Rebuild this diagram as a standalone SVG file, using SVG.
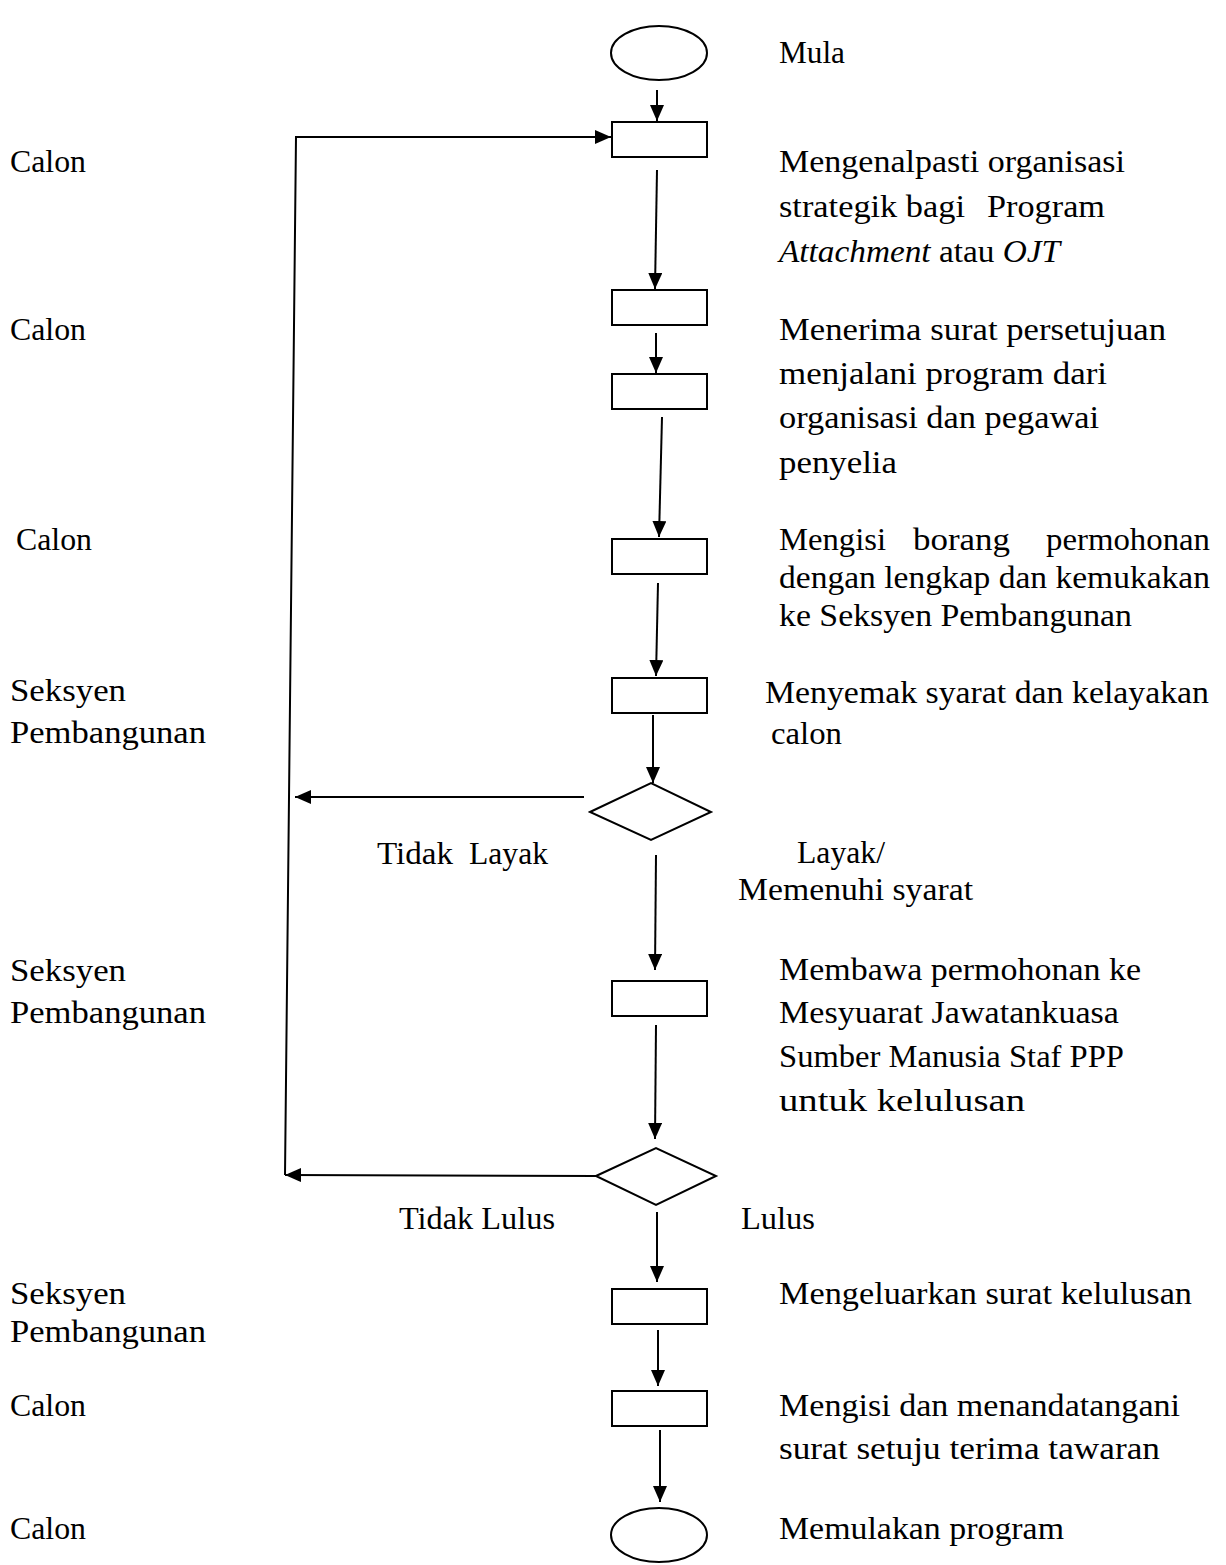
<svg xmlns="http://www.w3.org/2000/svg" width="1226" height="1565" viewBox="0 0 1226 1565">
<style>
.s{fill:#fff;stroke:#000;stroke-width:2}
.c{fill:none;stroke:#000;stroke-width:2}
.t{font-family:"Liberation Serif","Times New Roman",serif;font-size:32px;fill:#000}
.i{font-style:italic}
</style>
<defs>
<marker id="ah" markerWidth="16" markerHeight="14" refX="16" refY="7" orient="auto" markerUnits="userSpaceOnUse">
<path d="M0,0 L16,7 L0,14 z" fill="#000"/>
</marker>
</defs>
<rect width="1226" height="1565" fill="#fff"/>

<g id="connectors">
<line class="c" x1="657" y1="90" x2="657" y2="121" marker-end="url(#ah)"/>
<line class="c" x1="657" y1="170" x2="655" y2="289" marker-end="url(#ah)"/>
<line class="c" x1="656" y1="333" x2="656" y2="373" marker-end="url(#ah)"/>
<line class="c" x1="662" y1="417" x2="659" y2="537" marker-end="url(#ah)"/>
<line class="c" x1="658" y1="583" x2="656" y2="676" marker-end="url(#ah)"/>
<line class="c" x1="653" y1="715" x2="653" y2="783" marker-end="url(#ah)"/>
<line class="c" x1="584" y1="797" x2="295" y2="797" marker-end="url(#ah)"/>
<line class="c" x1="656" y1="855" x2="655" y2="970" marker-end="url(#ah)"/>
<line class="c" x1="656" y1="1025" x2="655" y2="1139" marker-end="url(#ah)"/>
<line class="c" x1="596" y1="1176" x2="285" y2="1175" marker-end="url(#ah)"/>
<polyline class="c" points="285,1175 296,137 611,137" marker-end="url(#ah)"/>
<line class="c" x1="657" y1="1212" x2="657" y2="1282" marker-end="url(#ah)"/>
<line class="c" x1="658" y1="1330" x2="658" y2="1386" marker-end="url(#ah)"/>
<line class="c" x1="660" y1="1430" x2="660" y2="1502" marker-end="url(#ah)"/>
</g>

<g id="n-mula">
<ellipse class="s" cx="659" cy="53" rx="48" ry="27"/>
<text class="t" x="779" y="63" textLength="66" lengthAdjust="spacingAndGlyphs">Mula</text>
</g>

<g id="n-kenalpasti">
<rect class="s" x="612" y="122" width="95" height="35"/>
<text class="t" x="10" y="172" textLength="76" lengthAdjust="spacingAndGlyphs">Calon</text>
<text class="t" x="779" y="172" textLength="346" lengthAdjust="spacingAndGlyphs">Mengenalpasti organisasi</text>
<text class="t" x="779" y="217" textLength="186" lengthAdjust="spacingAndGlyphs">strategik bagi</text>
<text class="t" x="987" y="217" textLength="118" lengthAdjust="spacingAndGlyphs">Program</text>
<text class="t" x="779" y="262" textLength="281" lengthAdjust="spacingAndGlyphs"><tspan class="i">Attachment</tspan> atau <tspan class="i">OJT</tspan></text>
</g>

<g id="n-terima">
<rect class="s" x="612" y="290" width="95" height="35"/>
<text class="t" x="10" y="340" textLength="76" lengthAdjust="spacingAndGlyphs">Calon</text>
<text class="t" x="779" y="340" textLength="387" lengthAdjust="spacingAndGlyphs">Menerima surat persetujuan</text>
<text class="t" x="779" y="384" textLength="328" lengthAdjust="spacingAndGlyphs">menjalani program dari</text>
<text class="t" x="779" y="428" textLength="320" lengthAdjust="spacingAndGlyphs">organisasi dan pegawai</text>
<text class="t" x="779" y="473" textLength="118" lengthAdjust="spacingAndGlyphs">penyelia</text>
</g>

<g id="n-terima2">
<rect class="s" x="612" y="374" width="95" height="35"/>
</g>

<g id="n-isi-borang">
<rect class="s" x="612" y="539" width="95" height="35"/>
<text class="t" x="16" y="550" textLength="76" lengthAdjust="spacingAndGlyphs">Calon</text>
<text class="t" x="779" y="550" textLength="107" lengthAdjust="spacingAndGlyphs">Mengisi</text>
<text class="t" x="913" y="550" textLength="97" lengthAdjust="spacingAndGlyphs">borang</text>
<text class="t" x="1046" y="550" textLength="164" lengthAdjust="spacingAndGlyphs">permohonan</text>
<text class="t" x="779" y="588" textLength="431" lengthAdjust="spacingAndGlyphs">dengan lengkap dan kemukakan</text>
<text class="t" x="779" y="626" textLength="353" lengthAdjust="spacingAndGlyphs">ke Seksyen Pembangunan</text>
</g>

<g id="n-semak">
<rect class="s" x="612" y="678" width="95" height="35"/>
<text class="t" x="10" y="701" textLength="116" lengthAdjust="spacingAndGlyphs">Seksyen</text>
<text class="t" x="10" y="743" textLength="196" lengthAdjust="spacingAndGlyphs">Pembangunan</text>
<text class="t" x="765" y="703" textLength="444" lengthAdjust="spacingAndGlyphs">Menyemak syarat dan kelayakan</text>
<text class="t" x="771" y="744" textLength="71" lengthAdjust="spacingAndGlyphs">calon</text>
</g>

<g id="d-layak">
<polygon class="s" points="590,812 651,783 711,812 651,840"/>
<text class="t" x="377" y="864" textLength="76" lengthAdjust="spacingAndGlyphs">Tidak</text>
<text class="t" x="469" y="864" textLength="79" lengthAdjust="spacingAndGlyphs">Layak</text>
<text class="t" x="797" y="863" textLength="88" lengthAdjust="spacingAndGlyphs">Layak/</text>
<text class="t" x="738" y="900" textLength="235" lengthAdjust="spacingAndGlyphs">Memenuhi syarat</text>
</g>

<g id="n-mesyuarat">
<rect class="s" x="612" y="981" width="95" height="35"/>
<text class="t" x="10" y="981" textLength="116" lengthAdjust="spacingAndGlyphs">Seksyen</text>
<text class="t" x="10" y="1023" textLength="196" lengthAdjust="spacingAndGlyphs">Pembangunan</text>
<text class="t" x="779" y="980" textLength="362" lengthAdjust="spacingAndGlyphs">Membawa permohonan ke</text>
<text class="t" x="779" y="1023" textLength="340" lengthAdjust="spacingAndGlyphs">Mesyuarat Jawatankuasa</text>
<text class="t" x="779" y="1067" textLength="345" lengthAdjust="spacingAndGlyphs">Sumber Manusia Staf PPP</text>
<text class="t" x="779" y="1111" textLength="246" lengthAdjust="spacingAndGlyphs">untuk kelulusan</text>
</g>

<g id="d-lulus">
<polygon class="s" points="596,1176 656,1148 716,1176 656,1205"/>
<text class="t" x="399" y="1229" textLength="156" lengthAdjust="spacingAndGlyphs">Tidak Lulus</text>
<text class="t" x="741" y="1229" textLength="74" lengthAdjust="spacingAndGlyphs">Lulus</text>
</g>

<g id="n-keluar-surat">
<rect class="s" x="612" y="1289" width="95" height="35"/>
<text class="t" x="10" y="1304" textLength="116" lengthAdjust="spacingAndGlyphs">Seksyen</text>
<text class="t" x="10" y="1342" textLength="196" lengthAdjust="spacingAndGlyphs">Pembangunan</text>
<text class="t" x="779" y="1304" textLength="413" lengthAdjust="spacingAndGlyphs">Mengeluarkan surat kelulusan</text>
</g>

<g id="n-tandatangan">
<rect class="s" x="612" y="1391" width="95" height="35"/>
<text class="t" x="10" y="1416" textLength="76" lengthAdjust="spacingAndGlyphs">Calon</text>
<text class="t" x="779" y="1416" textLength="401" lengthAdjust="spacingAndGlyphs">Mengisi dan menandatangani</text>
<text class="t" x="779" y="1459" textLength="381" lengthAdjust="spacingAndGlyphs">surat setuju terima tawaran</text>
</g>

<g id="n-mula-program">
<ellipse class="s" cx="659" cy="1535" rx="48" ry="27"/>
<text class="t" x="10" y="1539" textLength="76" lengthAdjust="spacingAndGlyphs">Calon</text>
<text class="t" x="779" y="1539" textLength="285" lengthAdjust="spacingAndGlyphs">Memulakan program</text>
</g>
</svg>
